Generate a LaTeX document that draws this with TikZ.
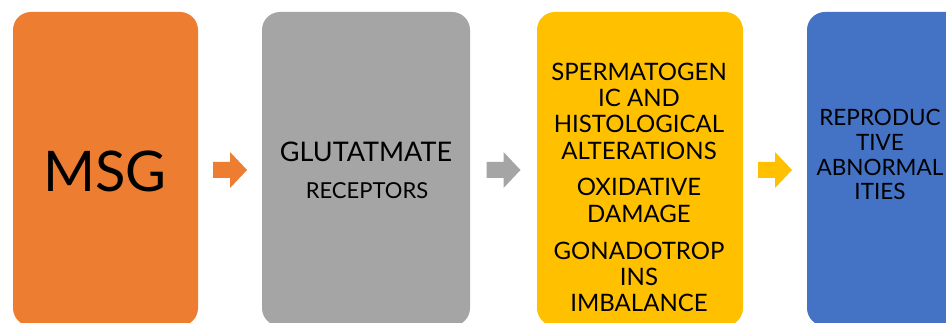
\documentclass[tikz,border=0pt]{standalone}
\usepackage{fontspec}
\setmainfont{Lato}
\usetikzlibrary{calc}
\definecolor{msgorange}{HTML}{ED7D31}
\definecolor{msggray}{HTML}{A5A5A5}
\definecolor{msgyellow}{HTML}{FFC000}
\definecolor{msgblue}{HTML}{4472C4}
\begin{document}
\begin{tikzpicture}[x=1pt,y=-1pt,
  box/.style={draw=none, rounded corners=18pt, inner sep=0pt, minimum height=314pt},
  lbl/.style={text=black, inner sep=0pt, align=center},
  big/.style={lbl, font=\fontsize{56}{56}\selectfont},
  mid/.style={lbl, font=\fontsize{27}{27}\selectfont},
  small/.style={lbl, font=\fontsize{22}{22}\selectfont},
  txt/.style={lbl, font=\fontsize{24}{24}\selectfont},
  txtb/.style={lbl, font=\fontsize{22.5}{22.5}\selectfont},
  blockarrow/.style={fill=#1, draw=none}]
\path[use as bounding box] (0,0) rectangle (946,323);
\clip (0,0) rectangle (946,323);
\fill[white] (0,0) rectangle (946,323);
% boxes
\node[box, fill=msgorange, minimum width=185pt] (msg) at (105.5,169) {};
\node[box, fill=msggray, minimum width=208pt] (glu) at (366,169) {};
\node[box, fill=msgyellow, minimum width=206pt] (eff) at (640,169) {};
\node[box, fill=msgblue, minimum width=206pt] (rep) at (910,169) {};
% labels
\node[big] (tmsg) at (105,171) {MSG};
\node[mid] (tglu1) at (366,152) {GLUTATMATE};
\node[small] (tglu2) at (367,191) {RECEPTORS};
\node[txt] (te1) at (639,72) {SPERMATOGEN};
\node[txt] (te2) at (639,98) {IC AND};
\node[txt] (te3) at (639,124) {HISTOLOGICAL};
\node[txt] (te4) at (639,151) {ALTERATIONS};
\node[txt] (te5) at (639,187) {OXIDATIVE};
\node[txt] (te6) at (639,214) {DAMAGE};
\node[txt] (te7) at (639,251) {GONADOTROP};
\node[txt] (te8) at (639,277) {INS};
\node[txt] (te9) at (639,303) {IMBALANCE};
\node[txtb] (tr1) at (880,117) {REPRODUC};
\node[txtb] (tr2) at (880,142) {TIVE};
\node[txtb] (tr3) at (880,167) {ABNORMAL};
\node[txtb] (tr4) at (880,191) {ITIES};
% arrows
\coordinate (m1) at ($(msg.east)!0.5!(glu.west)+(0,1)$);
\coordinate (m2) at ($(glu.east)!0.5!(eff.west)+(0,1)$);
\coordinate (m3) at ($(eff.east)!0.5!(rep.west)+(0,1)$);
\foreach \m/\c in {m1/msgorange, m2/msggray, m3/msgyellow}{
  \fill[blockarrow=\c, shift={(\m)}] (-17,-8) -- (0,-8) -- (0,-18) -- (17,0) -- (0,18) -- (0,8) -- (-17,8) -- cycle;
}
\end{tikzpicture}
\end{document}
